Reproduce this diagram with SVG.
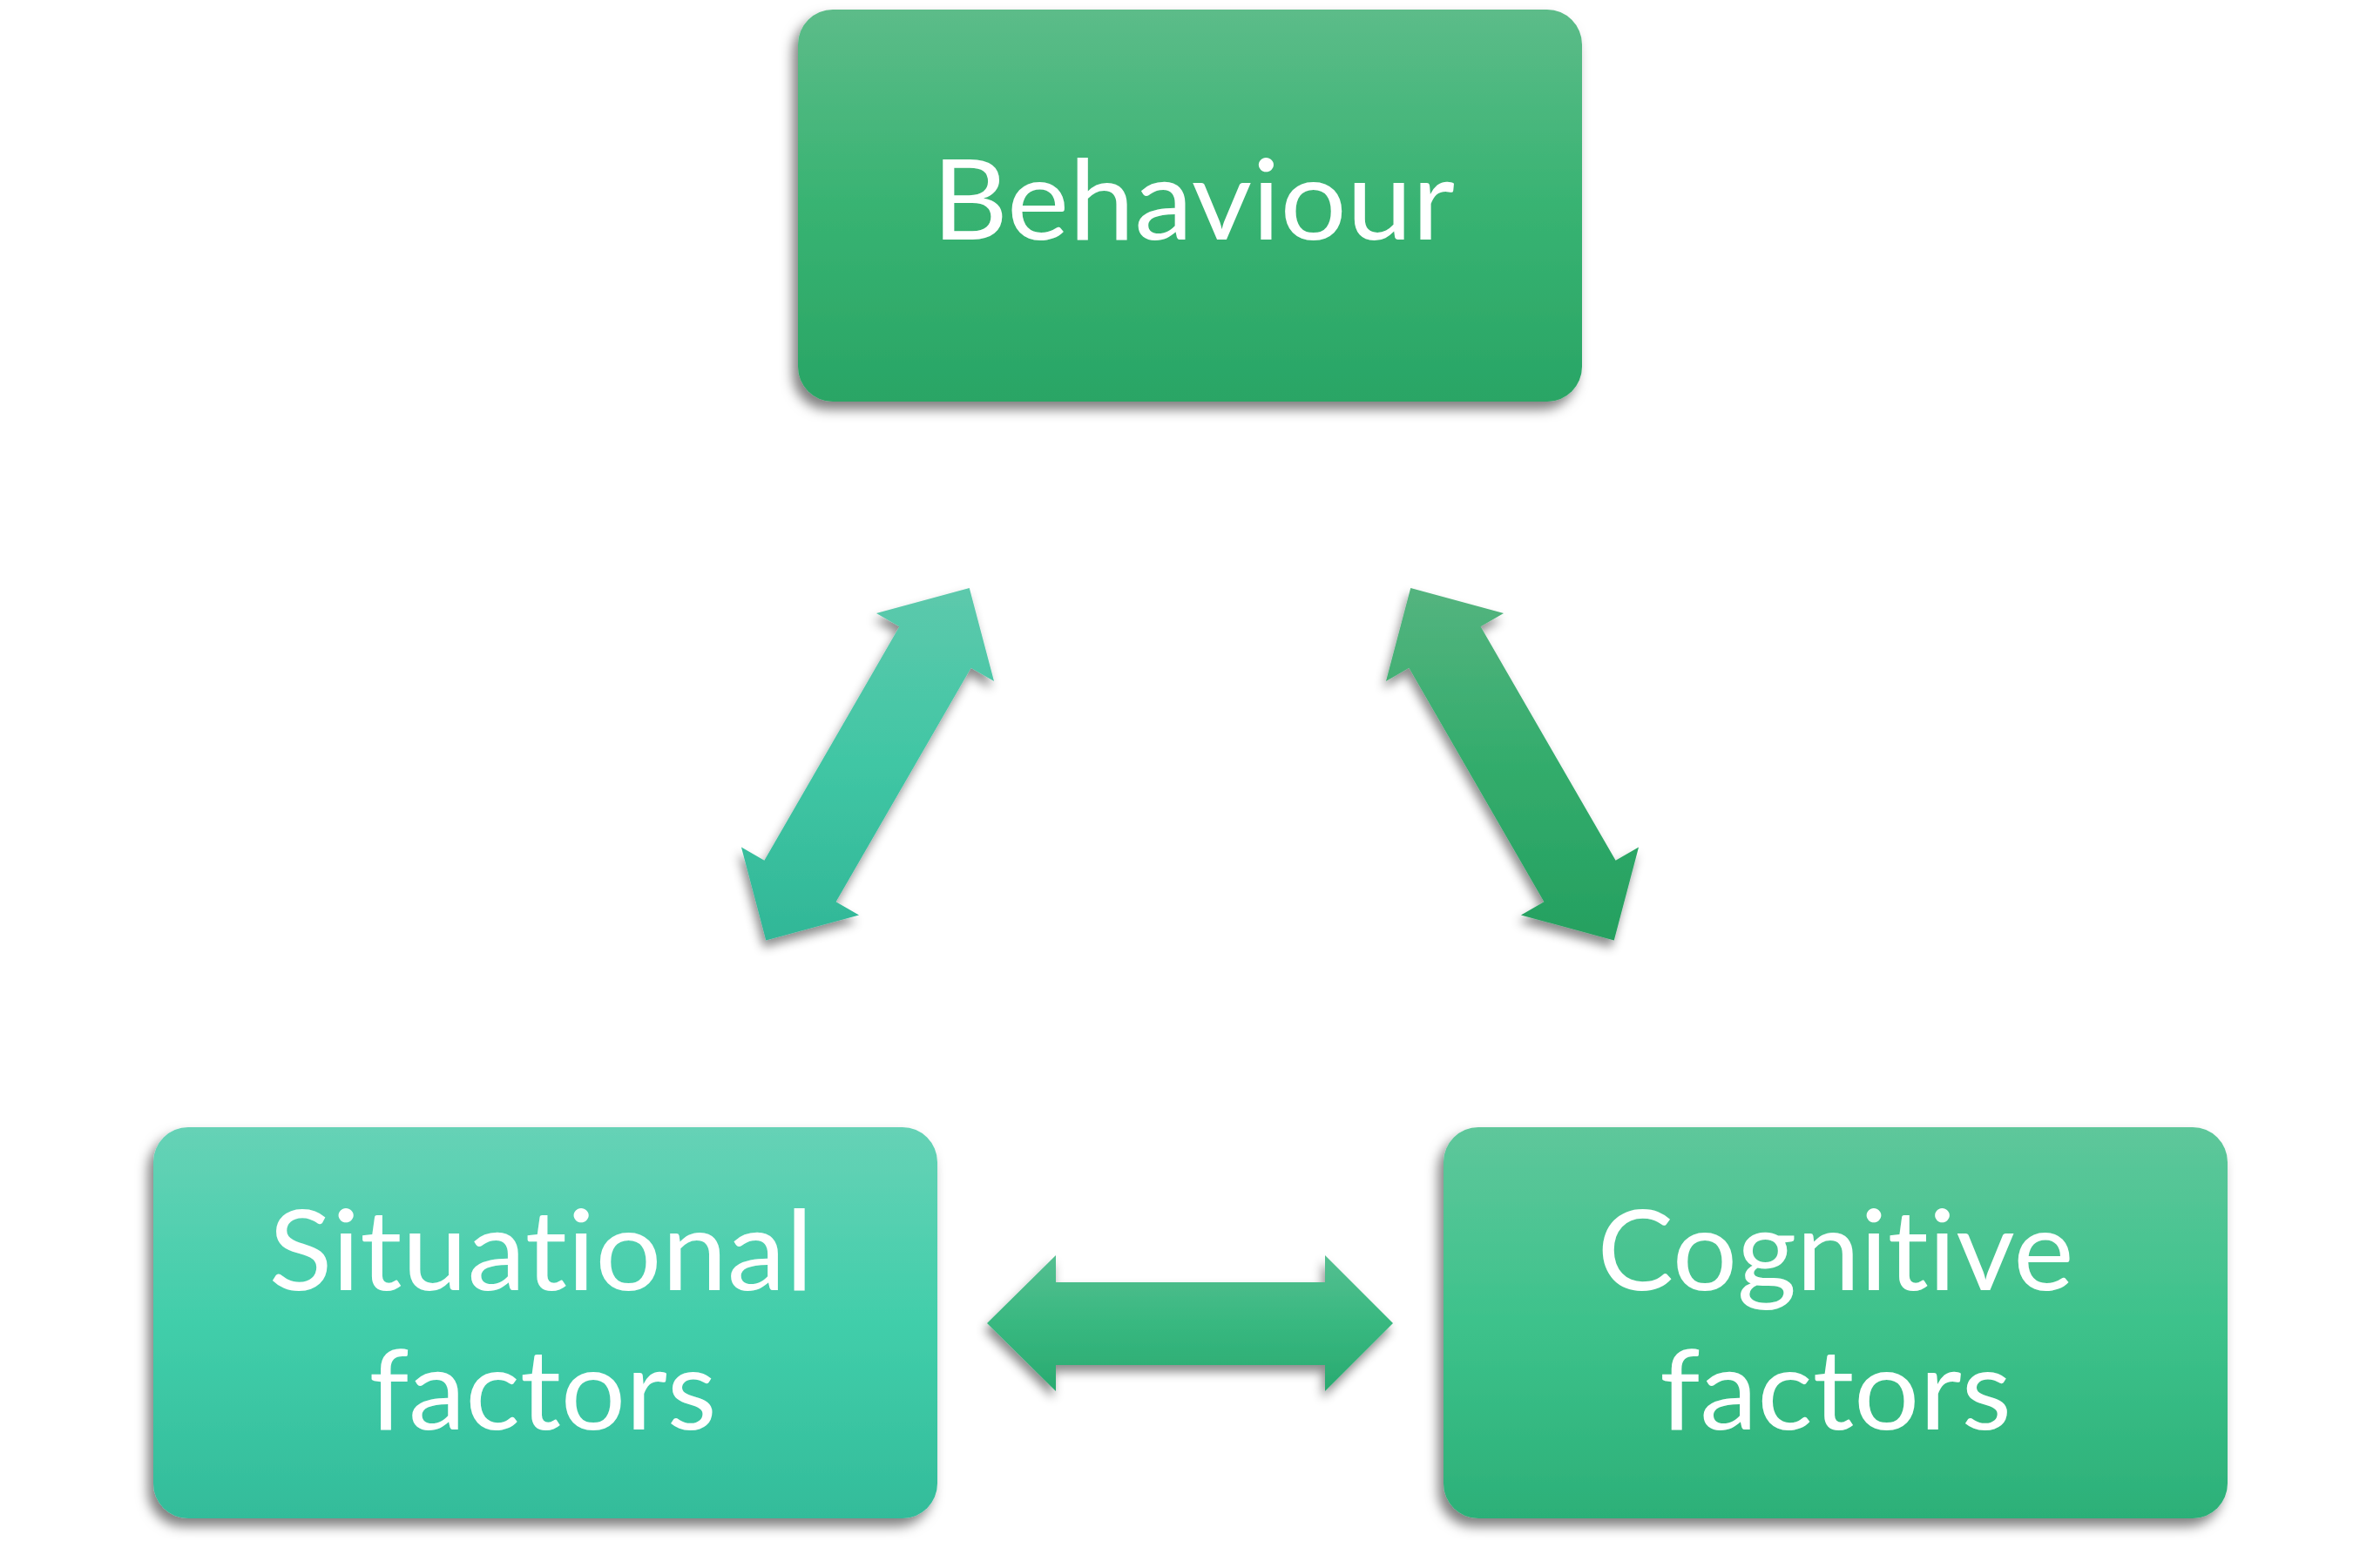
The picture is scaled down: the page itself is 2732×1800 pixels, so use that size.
<svg xmlns="http://www.w3.org/2000/svg" width="2732" height="1800" viewBox="0 0 2732 1800">
  <defs>
    <linearGradient id="gBeh" x1="0" y1="0" x2="0" y2="1">
      <stop offset="0" stop-color="#5CBC89"/>
      <stop offset="0.5" stop-color="#38B372"/>
      <stop offset="1" stop-color="#29A565"/>
    </linearGradient>
    <linearGradient id="gSit" x1="0" y1="0" x2="0" y2="1">
      <stop offset="0" stop-color="#66D2B6"/>
      <stop offset="0.5" stop-color="#41CEAA"/>
      <stop offset="1" stop-color="#33BC9A"/>
    </linearGradient>
    <linearGradient id="gCog" x1="0" y1="0" x2="0" y2="1">
      <stop offset="0" stop-color="#5EC79B"/>
      <stop offset="0.5" stop-color="#3DC28B"/>
      <stop offset="1" stop-color="#2CB078"/>
    </linearGradient>
    <linearGradient id="gArrL" x1="0" y1="0" x2="0" y2="1">
      <stop offset="0" stop-color="#5DC9AC"/>
      <stop offset="0.5" stop-color="#40C6A4"/>
      <stop offset="1" stop-color="#31B797"/>
    </linearGradient>
    <linearGradient id="gArrR" x1="0" y1="0" x2="0" y2="1">
      <stop offset="0" stop-color="#54B47F"/>
      <stop offset="0.5" stop-color="#33AC6C"/>
      <stop offset="1" stop-color="#25A060"/>
    </linearGradient>
    <linearGradient id="gArrH" x1="0" y1="0" x2="0" y2="1">
      <stop offset="0" stop-color="#55BF91"/>
      <stop offset="0.5" stop-color="#38B880"/>
      <stop offset="1" stop-color="#29AA70"/>
    </linearGradient>
    <filter id="shadow" x="-10%" y="-10%" width="120%" height="125%">
      <feDropShadow dx="-6" dy="9" stdDeviation="7" flood-color="#000" flood-opacity="0.5"/>
    </filter>
    <filter id="ashadow" x="-15%" y="-15%" width="130%" height="130%">
      <feDropShadow dx="-3" dy="8" stdDeviation="6" flood-color="#000" flood-opacity="0.45"/>
    </filter>
  </defs>
  <style>
    .box { filter: url(#shadow); }
    .arrow { filter: url(#ashadow); }
    .label { font-family: Lato, "Open Sans", "Liberation Sans", sans-serif; font-size: 128px; fill: #FFFFFF; text-anchor: middle; font-variant-ligatures: none; font-feature-settings: "liga" 0, "clig" 0, "dlig" 0; }
  </style>
  <rect width="2732" height="1800" fill="#FFFFFF"/>

  <g id="connectors">
    <polygon id="arrow-sit-beh" class="arrow" fill="url(#gArrL)" points="1112.75,675.1 1141.05,782.1 1114.6,766.85 959.6,1035.25 986.05,1050.5 879.25,1079.5 850.95,972.5 877.4,987.75 1032.4,719.35 1005.95,704.1"/>
    <polygon id="arrow-beh-cog" class="arrow" fill="url(#gArrR)" points="1619.25,675.1 1590.95,782.1 1617.4,766.85 1772.4,1035.25 1745.95,1050.5 1852.75,1079.5 1881.05,972.5 1854.6,987.75 1699.6,719.35 1726.05,704.1"/>
    <polygon id="arrow-sit-cog" class="arrow" fill="url(#gArrH)" points="1133,1519 1212,1441 1212,1472 1521,1472 1521,1441 1599,1519 1521,1597 1521,1567 1212,1567 1212,1597"/>
  </g>

  <g id="behaviour">
    <rect class="box" x="916" y="11" width="900" height="450" rx="40" ry="40" fill="url(#gBeh)"/>
    <text class="label" x="1370" y="275" textLength="600" lengthAdjust="spacingAndGlyphs">Behaviour</text>
  </g>

  <g id="situational">
    <rect class="box" x="176" y="1294" width="900" height="449" rx="40" ry="40" fill="url(#gSit)"/>
    <text class="label" x="621" y="1481" textLength="625" lengthAdjust="spacingAndGlyphs">Situational</text>
    <text class="label" x="623" y="1641" textLength="399" lengthAdjust="spacingAndGlyphs">factors</text>
  </g>

  <g id="cognitive">
    <rect class="box" x="1657" y="1294" width="900" height="449" rx="40" ry="40" fill="url(#gCog)"/>
    <text class="label" x="2107" y="1481" textLength="547" lengthAdjust="spacingAndGlyphs">Cognitive</text>
    <text class="label" x="2107" y="1641" textLength="404" lengthAdjust="spacingAndGlyphs">factors</text>
  </g>
</svg>
